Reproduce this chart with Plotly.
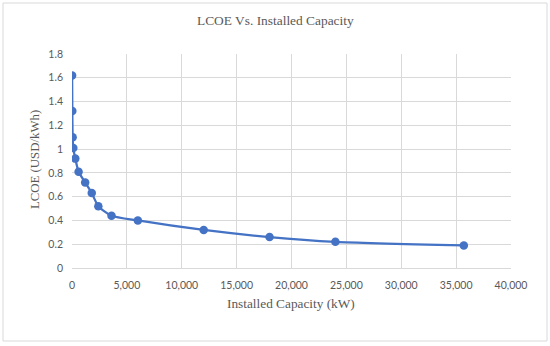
import plotly.graph_objects as go

capacity_kw = [10, 30, 60, 120, 300, 600, 1200, 1800, 2400, 3600, 6000, 12000, 18000, 24000, 35700]
lcoe_usd_kwh = [1.62, 1.32, 1.10, 1.01, 0.92, 0.81, 0.72, 0.63, 0.52, 0.44, 0.40, 0.32, 0.26, 0.22, 0.19]

x_ticks = [0, 5000, 10000, 15000, 20000, 25000, 30000, 35000, 40000]
y_ticks = [0, 0.2, 0.4, 0.6, 0.8, 1.0, 1.2, 1.4, 1.6, 1.8]

W, H = 550, 346
L, R, T, B = 72, 39, 54, 78
pw, ph = W - L - R, H - T - B

def px_x(p):
    return (p - L) / pw

def px_y(p):
    return (H - B - p) / ph

text_gray = "#595959"
grid = "#d9d9d9"
blue = "#4472C4"

fig = go.Figure()
fig.add_trace(go.Scatter(
    x=capacity_kw, y=lcoe_usd_kwh, mode="lines+markers",
    line=dict(color=blue, width=2.25, shape="spline", smoothing=0.6),
    marker=dict(color=blue, size=8.5),
    showlegend=False,
))

fig.update_layout(
    width=W, height=H,
    margin=dict(l=L, r=R, t=T, b=B, autoexpand=False),
    paper_bgcolor="white", plot_bgcolor="white",
    xaxis=dict(range=[0, 40000], tickvals=x_ticks, tickformat=",",
               showgrid=True, gridcolor=grid, gridwidth=1,
               zeroline=False, showline=True, linecolor=grid, linewidth=1,
               ticks="", ticklabelstandoff=7, automargin=False,
               tickfont=dict(family="Lato", size=10.5, color=text_gray)),
    yaxis=dict(range=[0, 1.8], tickvals=y_ticks,
               showgrid=True, gridcolor=grid, gridwidth=1,
               zeroline=False, showline=False, ticks="",
               ticklabelstandoff=8, automargin=False,
               tickfont=dict(family="Lato", size=10.5, color=text_gray)),
    annotations=[
        dict(text="LCOE Vs. Installed Capacity", xref="paper", yref="paper",
             x=px_x(275), y=px_y(21), xanchor="center", yanchor="middle",
             showarrow=False,
             font=dict(family="Liberation Serif", size=13.4, color=text_gray)),
        dict(text="Installed Capacity (kW)", xref="paper", yref="paper",
             x=px_x(291), y=px_y(303), xanchor="center", yanchor="middle",
             showarrow=False,
             font=dict(family="Liberation Serif", size=13.3, color=text_gray)),
        dict(text="LCOE (USD/kWh)", xref="paper", yref="paper",
             x=px_x(35), y=px_y(160), xanchor="center", yanchor="middle",
             textangle=-90, showarrow=False,
             font=dict(family="Liberation Serif", size=12.8, color=text_gray)),
    ],
)

fig.add_shape(type="rect", xref="paper", yref="paper",
              x0=px_x(3), x1=px_x(547), y0=px_y(341), y1=px_y(3),
              line=dict(color=grid, width=1), fillcolor="rgba(0,0,0,0)", layer="below")

fig.write_html("out.html", config={"displayModeBar": False},
               post_script="document.body.style.margin='0';")
